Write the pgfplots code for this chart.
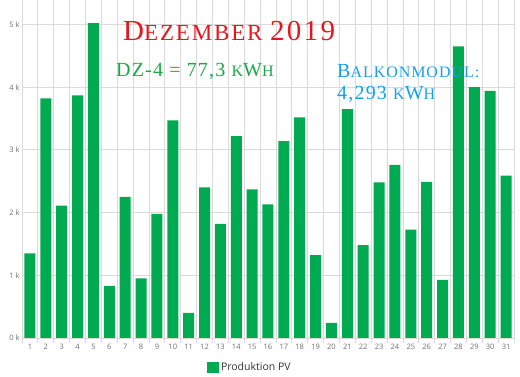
\documentclass[border=0pt]{standalone}
\usepackage{pgfplots}
\pgfplotsset{compat=1.18}
\usepackage{fontspec}
\setmainfont{Liberation Serif}
\newfontfamily\tickfont{Open Sans}
\newfontfamily\titlefont[LetterSpace=8]{Liberation Serif}
\newfontfamily\decofont[LetterSpace=6]{Liberation Serif}
\definecolor{bargreen}{RGB}{0,170,80}
\definecolor{titlered}{RGB}{228,22,32}
\definecolor{dzgreen}{RGB}{24,168,72}
\definecolor{balkblue}{RGB}{22,160,230}
\definecolor{gridgray}{RGB}{218,218,218}
\definecolor{ticktext}{RGB}{110,110,110}
\newcommand\fs[1]{\fontsize{#1}{#1}\selectfont}
\begin{document}
\begin{tikzpicture}
\begin{axis}[
  at={(0,0)}, anchor=south west,
  scale only axis, width=492pt, height=338pt,
  xmin=0.5, xmax=31.5, ymin=0, ymax=5390,
  axis line style={draw=none},
  ybar, bar width=11pt,
  xtick={1,...,31},
  minor xtick={0.5,1.5,...,31.5},
  major tick length=0pt, minor tick length=5pt,
  tick align=outside,
  xminorgrids=true, ymajorgrids=true,
  grid style={draw=gridgray, line width=0.8pt},
  minor grid style={draw=gridgray, line width=0.8pt},
  minor tick style={draw=gridgray, line width=0.8pt},
  ytick={0,1000,2000,3000,4000,5000},
  yticklabels={0 k,1 k,2 k,3 k,4 k,5 k},
  /pgf/number format/assume math mode=true,
  tick label style={font=\tickfont\fs{7.5}, text=ticktext},
  xticklabel style={yshift=-3pt},
  yticklabel style={xshift=1pt},
  legend style={at={(0.463,-0.086)}, anchor=center, draw=none, fill=none,
    font=\tickfont\fs{10.5}, text=black!80},
  legend image code/.code={\fill[bargreen] (0pt,-5.5pt) rectangle (12pt,5.5pt);},
]
\addplot[fill=bargreen, draw=none] coordinates {
(1,1350) (2,3820) (3,2110) (4,3870) (5,5020) (6,830) (7,2250) (8,950)
(9,1980) (10,3470) (11,400) (12,2400) (13,1820) (14,3220) (15,2370)
(16,2130) (17,3140) (18,3520) (19,1320) (20,240) (21,3650) (22,1480)
(23,2480) (24,2760) (25,1730) (26,2490) (27,925) (28,4650) (29,4000)
(30,3940) (31,2590)};
\addlegendentry{Produktion PV}
\end{axis}
\node[anchor=base west, text=titlered, inner sep=0] at (101pt,297pt)
  {\titlefont\fs{29}D\fs{23}EZEMBER \fs{29}2019};
\node[anchor=base west, text=dzgreen, inner sep=0] at (94pt,261pt)
  {\decofont\fs{20}DZ-4 = 77,3 \fs{16}K\fs{20}W\fs{16}H};
\node[anchor=base west, text=balkblue, inner sep=0] at (315pt,260pt)
  {\decofont\fs{20}B\fs{16}ALKONMODUL:};
\node[anchor=base west, text=balkblue, inner sep=0] at (315pt,238pt)
  {\decofont\fs{20}4,293 \fs{16}K\fs{20}W\fs{16}H};
\pgfresetboundingbox
\path (-22pt,-39pt) rectangle (498pt,338pt);
\end{tikzpicture}
\end{document}
